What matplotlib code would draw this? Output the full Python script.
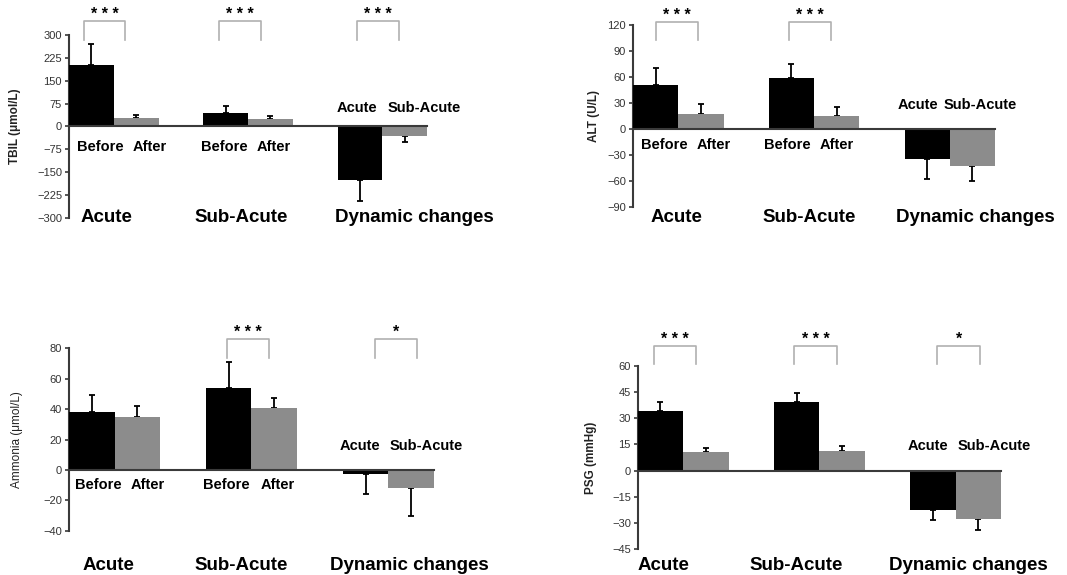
import matplotlib
matplotlib.use("Agg")
import matplotlib.pyplot as plt
from matplotlib.transforms import blended_transform_factory

plt.rcParams['font.family'] = ['Liberation Sans', 'DejaVu Sans']

# black bars: Acute before, Sub-Acute before, Dynamic acute
# gray bars: Acute after, Sub-Acute after, Dynamic sub-acute
tbil_black = [200, 43, -174]
tbil_black_err = [72, 23, 71]
tbil_gray = [28, 25, -30]
tbil_gray_err = [10, 9, 21]
tbil_sig = ['* * *', '* * *', '* * *']

alt_black = [51, 59, -35]
alt_black_err = [19.5, 16.5, 23]
alt_gray = [17, 15.5, -43]
alt_gray_err = [12, 9.5, 17]
alt_sig = ['* * *', '* * *', None]

amm_black = [38, 53.7, -2.9]
amm_black_err = [11, 17, 13]
amm_gray = [34.6, 41, -11.6]
amm_gray_err = [7.7, 6, 18.7]
amm_sig = [None, '* * *', '*']

psg_black = [34.2, 39.2, -22.8]
psg_black_err = [5.3, 5.3, 5.7]
psg_gray = [10.6, 11.2, -27.4]
psg_gray_err = [2.3, 2.9, 6.3]
psg_sig = ['* * *', '* * *', '*']

group_names = ['Acute', 'Sub-Acute', 'Dynamic changes']
pair_labels = ['Before', 'After']
dyn_labels = ['Acute', 'Sub-Acute']

panels = [
    dict(rect=[0.0647, 0.6209, 0.3355, 0.3183], ylim=(-300, 300), step=75,
         ylabel='TBIL (μmol/L)', ylab_w='bold', ylab_x=-0.135,
         black=tbil_black, black_err=tbil_black_err, gray=tbil_gray,
         gray_err=tbil_gray_err, sig=tbil_sig,
         br_left=[-0.67, -0.65, -0.56], br_y=(0.973, 1.077),
         ba_x=[(0.69, 1.81), (3.47, 4.58)], ba_y=0.39,
         dyn_x=(6.43, 7.93), dyn_y=0.601,
         big_x=[0.83, 3.84, 7.71], big_y=0.0),
    dict(rect=[0.5933, 0.64, 0.3393, 0.3165], ylim=(-90, 120), step=30,
         ylabel='ALT (U/L)', ylab_w='bold', ylab_x=-0.09,
         black=alt_black, black_err=alt_black_err, gray=alt_gray,
         gray_err=alt_gray_err, sig=alt_sig,
         br_left=[-0.49, -0.55, 0], br_y=(0.918, 1.018),
         ba_x=[(0.68, 1.79), (3.41, 4.5)], ba_y=0.341,
         dyn_x=(6.3, 7.68), dyn_y=0.56,
         big_x=[0.97, 3.9, 7.57], big_y=-0.06),
    dict(rect=[0.0647, 0.077, 0.342, 0.3172], ylim=(-40, 80), step=20,
         ylabel='Ammonia (μmol/L)', ylab_w='normal', ylab_x=-0.125,
         black=amm_black, black_err=amm_black_err, gray=amm_gray,
         gray_err=amm_gray_err, sig=amm_sig,
         br_left=[0, -0.54, -0.3], br_y=(0.947, 1.051),
         ba_x=[(0.65, 1.72), (3.44, 4.57)], ba_y=0.25,
         dyn_x=(6.37, 7.83), dyn_y=0.464,
         big_x=[0.86, 3.78, 7.46], big_y=-0.188),
    dict(rect=[0.5977, 0.0447, 0.3405, 0.3193], ylim=(-45, 60), step=15,
         ylabel='PSG (mmHg)', ylab_w='bold', ylab_x=-0.112,
         black=psg_black, black_err=psg_black_err, gray=psg_gray,
         gray_err=psg_gray_err, sig=psg_sig,
         br_left=[-0.64, -0.55, -0.4], br_y=(1.009, 1.107),
         ba_x=[], ba_y=0.0,
         dyn_x=(6.39, 7.85), dyn_y=0.563,
         big_x=[0.56, 3.49, 7.28], big_y=-0.086),
]

axis_col = '#3a3a3a'
gray_col = '#8c8c8c'

fig = plt.figure(figsize=(10.67, 5.75), dpi=100)

for p in panels:
    ax = fig.add_axes(p['rect'])
    centers = [1, 4, 7]
    bx = [c - 0.5 for c in centers]
    gx = [c + 0.5 for c in centers]

    ax.plot([0, 8], [0, 0], color=axis_col, lw=1.5, zorder=4, clip_on=False)
    ax.bar(bx, p['black'], width=1.0, color='black', zorder=3)
    ax.bar(gx, p['gray'], width=1.0, color=gray_col, zorder=3)

    for xs, vals, errs in [(bx, p['black'], p['black_err']),
                           (gx, p['gray'], p['gray_err'])]:
        lo = [e if v < 0 else 0 for v, e in zip(vals, errs)]
        hi = [e if v >= 0 else 0 for v, e in zip(vals, errs)]
        ax.errorbar(xs, vals, yerr=[lo, hi], fmt='none', ecolor='black',
                    elinewidth=1.3, capsize=2.5, capthick=1.3, zorder=2,
                    clip_on=False)

    trans = blended_transform_factory(ax.transData, ax.transAxes)
    y0, y1 = p['br_y']
    for c, s, off in zip(centers, p['sig'], p['br_left']):
        if s is None:
            continue
        xl = c + off
        xr = xl + 0.93
        ax.plot([xl, xl, xr, xr], [y0, y1, y1, y0], color='#b0b0b0', lw=1.2,
                transform=trans, clip_on=False)
        ax.text((xl + xr) / 2, y1 - 0.005, s, transform=trans, ha='center',
                va='bottom', fontsize=11.5, fontweight='bold')

    for xb, xa in p['ba_x']:
        ax.text(xb, p['ba_y'], pair_labels[0], transform=trans, ha='center',
                va='center', fontsize=10.5, fontweight='bold')
        ax.text(xa, p['ba_y'], pair_labels[1], transform=trans, ha='center',
                va='center', fontsize=10.5, fontweight='bold')
    for x, lab in zip(p['dyn_x'], dyn_labels):
        ax.text(x, p['dyn_y'], lab, transform=trans, ha='center', va='center',
                fontsize=10.5, fontweight='bold')
    for x, lab in zip(p['big_x'], group_names):
        ax.text(x, p['big_y'], lab, transform=trans, ha='center', va='center',
                fontsize=13.5, fontweight='bold')

    lo_y, hi_y = p['ylim']
    ax.set_ylim(lo_y, hi_y)
    ax.set_xlim(0, 8)
    ticks = list(range(lo_y, hi_y + 1, p['step']))
    ax.set_yticks(ticks)
    ax.set_xticks([])
    ax.tick_params(axis='y', direction='out', length=3, width=1.2,
                   color=axis_col, labelsize=8, labelcolor='#333333', pad=2)
    for side in ['top', 'right', 'bottom']:
        ax.spines[side].set_visible(False)
    ax.spines['left'].set_color(axis_col)
    ax.spines['left'].set_linewidth(1.5)
    ax.set_ylabel(p['ylabel'], fontsize=8.5, fontweight=p['ylab_w'], color='#222222')
    ax.yaxis.set_label_coords(p['ylab_x'], 0.5)
    ax.patch.set_visible(False)

fig.savefig('out.png', dpi=100)
